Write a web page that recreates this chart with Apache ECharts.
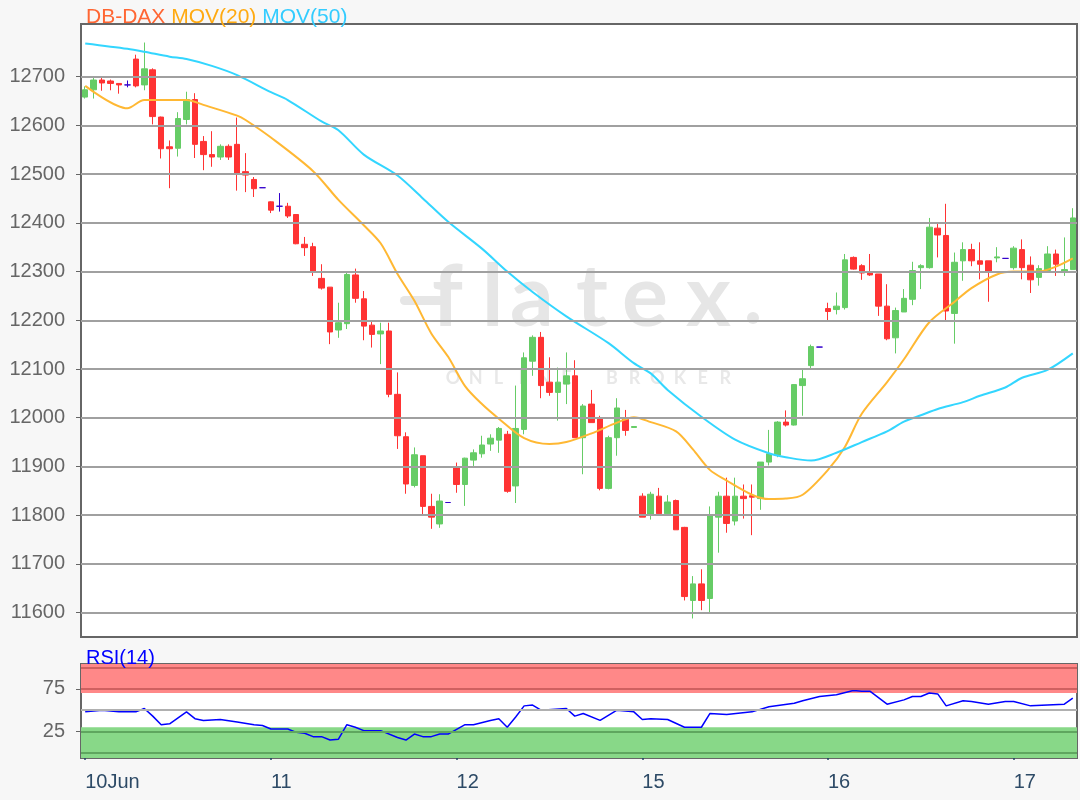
<!DOCTYPE html>
<html><head><meta charset="utf-8">
<script src="https://cdn.jsdelivr.net/npm/echarts@6/dist/echarts.min.js"></script>
<style>html,body{margin:0;padding:0;background:#f7f7f7}#c{width:1080px;height:800px}</style>
</head><body><div id="c"></div>
<script>
const dayLabels = ['10Jun', '11', '12', '15', '16', '17'];
const barsPerDay = 22;
const priceTicks = [11600, 11700, 11800, 11900, 12000, 12100, 12200, 12300, 12400, 12500, 12600, 12700];
const rsiTicks = [25, 75];

const opens = [12658,12673,12693,12691,12686,12683,12736,12683,12714,12617,12556,12553,12612,12653,12567,12540,12535,12557,12561,12505,12489,12472,
  12443,12434,12434,12417,12356,12351,12286,12268,12180,12193,12293,12244,12190,12172,12178,12048,11961,11861,11922,11818,
  11782,11826,11897,11863,11913,11926,11946,11954,11966,11860,11976,12116,12165,12073,12052,12069,12086,11959,12028,12000,11855,11959,11997,11980,
  11839,11802,11839,11803,11830,11775,11625,11659,11629,11796,11839,11788,11839,11840,11834,11909,11923,11991,11985,12066,12107,12145,
  12224,12222,12226,12329,12312,12300,12295,12229,12164,12217,12243,12308,12308,12389,12374,12214,12322,12345,12322,12322,12328,12327,
  12308,12345,12313,12288,12302,12336,12298,12304];
const closes = [12673,12693,12687,12686,12683,12683,12681,12716,12618,12552,12552,12614,12653,12561,12540,12535,12557,12535,12502,12498,12470,12472,
  12426,12434,12414,12357,12349,12301,12266,12176,12195,12294,12245,12188,12171,12178,12048,11963,11864,11924,11818,11796,
  11829,11826,11863,11917,11928,11944,11958,11978,11849,11978,12123,12165,12066,12052,12073,12086,11959,12024,11990,11855,11959,12020,11974,11982,
  11796,11843,11803,11827,11770,11633,11659,11625,11800,11839,11783,11839,11834,11837,11909,11926,11991,11985,12068,12080,12146,12145,
  12218,12229,12324,12305,12297,12293,12229,12162,12220,12245,12302,12312,12391,12375,12219,12319,12345,12322,12315,12300,12330,12327,
  12348,12308,12283,12306,12336,12315,12304,12410];
const lows = [12655,12655,12671,12672,12665,12678,12678,12672,12602,12532,12471,12536,12602,12533,12508,12515,12529,12529,12466,12463,12453,12472,
  12420,12423,12410,12356,12332,12291,12263,12151,12164,12182,12236,12159,12144,12110,12042,11936,11844,11857,11799,11772,
  11774,11826,11846,11819,11901,11918,11932,11928,11846,11825,11966,12086,12040,12045,11994,12028,11959,11884,11990,11851,11853,11922,11963,11980,
  11796,11791,11803,11802,11770,11625,11588,11605,11600,11723,11764,11779,11793,11759,11811,11902,11919,11982,11984,12004,12100,12145,
  12200,12212,12222,12304,12283,12291,12209,12159,12132,12217,12231,12264,12306,12329,12200,12152,12281,12311,12284,12238,12319,12327,
  12304,12284,12256,12271,12302,12291,12291,12304];
const highs = [12680,12700,12699,12694,12686,12692,12745,12770,12717,12618,12569,12627,12669,12666,12578,12588,12561,12561,12616,12543,12494,12472,
  12444,12461,12441,12417,12371,12359,12315,12268,12236,12301,12306,12260,12199,12195,12195,12093,11970,11939,11922,11844,
  11843,11826,11908,11918,11935,11963,11966,11981,11973,12066,12134,12169,12176,12124,12103,12134,12118,12028,12057,12004,11963,12040,12016,11982,
  11845,11848,11856,11841,11832,11776,11675,11689,11818,11848,11877,11877,11863,11863,11909,11975,11993,12015,12069,12100,12150,12145,
  12236,12257,12336,12331,12315,12336,12295,12274,12226,12264,12320,12315,12410,12401,12439,12339,12360,12357,12360,12322,12350,12327,
  12352,12366,12331,12313,12352,12345,12370,12430];

// moving averages: [bar index, value]
const mov20 = [[0,12681],[5,12635],[7,12652],[12,12652],[14,12642],[18,12620],[19,12611],[22,12575],[27,12506],[30,12447],[33,12395],[35,12358],
  [37,12295],[39,12240],[41,12173],[43,12125],[45,12065],[47,12028],[49,11998],[52,11958],[55,11946],[57,11950],[60,11968],[63,11990],[65,12001],
  [67,11991],[70,11972],[72,11935],[74,11893],[76,11871],[79,11842],[81,11833],[83,11834],[85,11842],[88,11893],[90,11940],[92,12008],[95,12073],
  [97,12120],[100,12196],[103,12238],[105,12266],[108,12294],[110,12300],[113,12300],[115,12310],[117,12327]];
const mov50 = [[0,12768],[5,12757],[7,12751],[10,12741],[12,12736],[15,12722],[18,12703],[22,12668],[24,12652],[28,12608],[30,12590],[33,12540],
  [37,12497],[40,12450],[43,12402],[47,12347],[50,12300],[53,12258],[57,12208],[62,12153],[65,12112],[67,12091],[69,12057],[73,12002],[77,11955],
  [81,11927],[83,11919],[86,11912],[89,11928],[92,11950],[95,11972],[97,11992],[99,12005],[101,12018],[104,12032],[106,12045],[109,12062],
  [111,12082],[114,12098],[117,12132]];
const rsi14 = [[0,48],[2,50],[4,48],[6,48],[7,52],[8,43],[9,33],[10,34],[12,48],[13,40],[14,38],[16,39],[18,36],[20,33],[21,32],[22,28],[24,28],
  [25,24],[26,23],[27,19],[28,19],[29,15],[30,16],[31,33],[32,30],[33,26],[35,26],[37,18],[38,15],[39,22],[40,19],[41,19],[42,22],[43,22],[45,33],
  [46,33],[48,38],[49,40],[50,30],[51,42],[52,55],[53,56],[54,50],[57,52],[58,43],[59,46],[61,38],[63,50],[65,48],[66,39],[67,40],[69,39],[71,30],
  [73,30],[74,46],[76,45],[79,48],[81,54],[84,58],[85,61],[87,66],[89,68],[91,73],[92,72],[93,72],[95,57],[97,62],[98,66],[99,66],[100,70],
  [101,69],[102,55],[104,61],[105,60],[107,57],[109,60],[110,60],[112,55],[114,56],[116,57],[117,64]];

const cats = opens.map((_, i) => String(i));
const candles = opens.map((o, i) => [o, closes[i], lows[i], highs[i]]);

const wmColor = '#e6e6e6';
const wmLetters = [['f', 432], ['l', 482], ['a', 510], ['t', 576], ['e', 622], ['x', 686]];
const wmSub = 'ONLINE BROKER';
const graphics = [
  { type: 'rect', z: 1, shape: { x: 400, y: 296, width: 44, height: 9, r: 4.5 }, style: { fill: wmColor } },
  { type: 'circle', z: 1, shape: { cx: 753, cy: 318, r: 6 }, style: { fill: wmColor } }
];
wmLetters.forEach(([ch, x]) => graphics.push({ type: 'text', z: 1, x: x, y: 341,
  style: { text: ch, fontFamily: 'Lato', fontWeight: 'bold', fontSize: 86, fill: wmColor, textAlign: 'left', textVerticalAlign: 'bottom' } }));
wmSub.split('').forEach((ch, k) => graphics.push({ type: 'text', z: 1, x: 453 + k * 22.7, y: 387,
  style: { text: ch, fontFamily: 'Lato', fontWeight: 'bold', fontSize: 18, fill: '#e8e8e8', textAlign: 'center', textVerticalAlign: 'bottom' } }));

const chart = echarts.init(document.getElementById('c'));
chart.setOption({
  animation: false,
  backgroundColor: '#f7f7f7',
  textStyle: { fontFamily: 'Liberation Sans' },
  title: [
    { text: '{a|DB-DAX} {b|MOV(20)} {c|MOV(50)}', left: 81, top: 2,
      textStyle: { fontWeight: 'normal', fontSize: 21, rich: {
        a: { color: '#ff6633', fontSize: 21, fontWeight: 'normal' },
        b: { color: '#ffaa11', fontSize: 21, fontWeight: 'normal' },
        c: { color: '#33ccff', fontSize: 21, fontWeight: 'normal' } } } },
    { text: 'RSI(14)', left: 81, top: 643, textStyle: { color: '#0000ff', fontSize: 20, fontWeight: 'normal' } }
  ],
  graphic: graphics,
  grid: [
    { left: 81, right: 3, top: 24, height: 613, show: true, backgroundColor: '#fff', borderColor: '#666', borderWidth: 2 },
    { left: 81, right: 3, top: 664, height: 94, show: true, backgroundColor: '#fff', borderColor: '#666', borderWidth: 2 }
  ],
  xAxis: [
    { type: 'category', gridIndex: 0, data: cats, boundaryGap: true, axisLine: { show: false }, axisTick: { show: false },
      axisLabel: { show: false }, splitLine: { show: false } },
    { type: 'category', gridIndex: 1, data: cats, boundaryGap: true, axisLine: { show: false },
      axisTick: { show: true, alignWithLabel: true, interval: (i) => i % barsPerDay === 0, length: 7, lineStyle: { color: '#2d4a66', width: 2 } },
      axisLabel: { interval: (i) => i % barsPerDay === 0, formatter: (v, i) => dayLabels[Math.round(i / barsPerDay)] || '',
        align: 'left', color: '#2d4a66', fontSize: 20, margin: 14 },
      splitLine: { show: false } }
  ],
  yAxis: [
    { type: 'value', gridIndex: 0, min: 11550, max: 12808, axisLine: { show: false }, splitLine: { show: false },
      axisTick: { show: true, customValues: priceTicks, length: 5, lineStyle: { color: '#666' } },
      axisLabel: { customValues: priceTicks, formatter: (v) => String(v), color: '#666', fontSize: 20, margin: 16 } },
    { type: 'value', gridIndex: 1, min: -6, max: 104, axisLine: { show: false }, splitLine: { show: false },
      axisTick: { show: true, customValues: rsiTicks, length: 5, lineStyle: { color: '#666' } },
      axisLabel: { customValues: rsiTicks, formatter: (v) => String(v), color: '#666', fontSize: 20, margin: 16 } }
  ],
  series: [
    { type: 'line', xAxisIndex: 0, yAxisIndex: 0, data: [], z: 2, silent: true,
      markLine: { silent: true, symbol: 'none', label: { show: false }, animation: false,
        lineStyle: { color: '#a0a0a0', width: 2, type: 'solid' }, data: priceTicks.map(v => ({ yAxis: v })) } },
    { type: 'candlestick', xAxisIndex: 0, yAxisIndex: 0, data: candles, barWidth: 6, z: 3,
      itemStyle: { color: '#66cc66', color0: '#ff3333', borderColor: '#66cc66', borderColor0: '#ff3333', borderColorDoji: '#3300cc', borderWidth: 1 } },
    { type: 'line', xAxisIndex: 0, yAxisIndex: 0, data: mov20, smooth: 0.3, showSymbol: false, z: 4,
      lineStyle: { color: '#ffb833', width: 2 } },
    { type: 'line', xAxisIndex: 0, yAxisIndex: 0, data: mov50, smooth: 0.3, showSymbol: false, z: 4,
      lineStyle: { color: '#33d6ff', width: 2 } },
    { type: 'line', xAxisIndex: 1, yAxisIndex: 1, data: [], z: 2, silent: true,
      markArea: { silent: true, data: [
        [{ yAxis: 70, itemStyle: { color: '#ff8888' } }, { yAxis: 104 }],
        [{ yAxis: -6, itemStyle: { color: '#88d888' } }, { yAxis: 30 }] ] },
      markLine: { silent: true, symbol: 'none', label: { show: false },
        data: [
          { yAxis: 100, lineStyle: { color: '#d06060', width: 2, type: 'solid' } },
          { yAxis: 75, lineStyle: { color: '#d06060', width: 2, type: 'solid' } },
          { yAxis: 50, lineStyle: { color: '#b0b0b0', width: 2, type: 'solid' } },
          { yAxis: 25, lineStyle: { color: '#5fa65f', width: 2, type: 'solid' } },
          { yAxis: 0, lineStyle: { color: '#5fa65f', width: 2, type: 'solid' } } ] } },
    { type: 'line', xAxisIndex: 1, yAxisIndex: 1, data: rsi14, showSymbol: false, z: 4,
      lineStyle: { color: '#0000ff', width: 1.5 } }
  ]
});
</script></body></html>
